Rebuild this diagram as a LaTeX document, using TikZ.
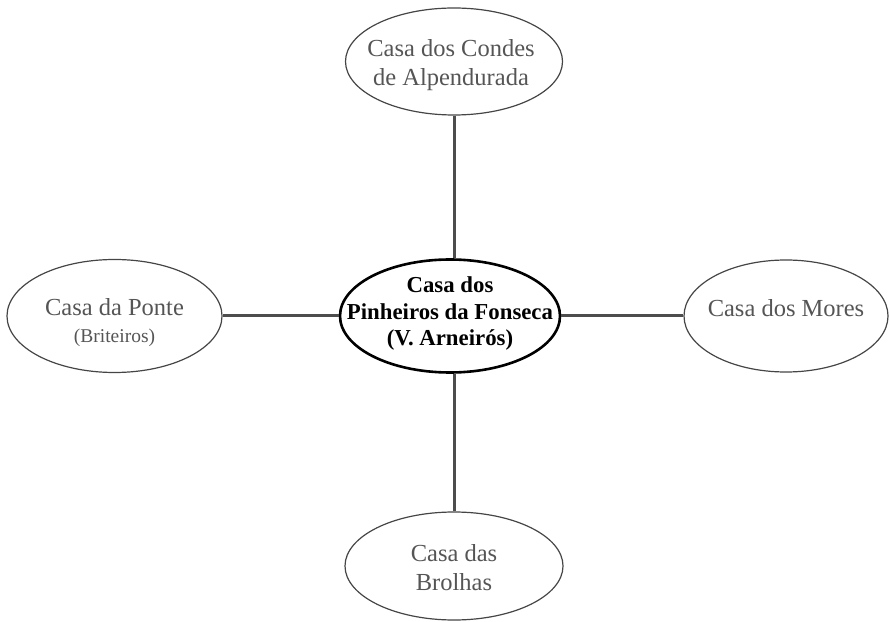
\documentclass[tikz,border=0pt]{standalone}
\usepackage{fontspec}
\setmainfont{Liberation Serif}
\usetikzlibrary{shapes.geometric}
\definecolor{txtgray}{HTML}{555555}
\definecolor{linegray}{HTML}{4D4D4D}
\begin{document}
\begin{tikzpicture}[x=1pt,y=1pt,
  outer/.style={ellipse,draw=linegray!90!black,line width=1.2pt,inner sep=0pt},
  hub/.style={ellipse,draw=black,line width=2.6pt,inner sep=0pt},
  outertext/.style={inner sep=0pt,align=center,text=txtgray,font=\fontsize{24.5}{29}\selectfont},
  hubtext/.style={inner sep=0pt,align=center,font=\bfseries\fontsize{22.8}{26.3}\selectfont},
  link/.style={draw=linegray,line width=3pt}]
\useasboundingbox (0,0) rectangle (890,621);
% shapes
\node[hub,minimum width=220,minimum height=113] (c) at (450,305) {};
\node[outer,minimum width=217,minimum height=107] (t) at (454,559.5) {};
\node[outer,minimum width=215,minimum height=113] (l) at (114.5,305) {};
\node[outer,minimum width=204,minimum height=112] (r) at (786,305) {};
\node[outer,minimum width=218,minimum height=108] (b) at (454,55) {};
% texts
\node[hubtext] (ct) at ([yshift=2.4]c.center) {Casa dos\\Pinheiros da Fonseca\\(V. Arneirós)};
\node[outertext] (tt) at ([xshift=-3,yshift=-3.3]t.center) {Casa dos Condes\\de Alpendurada};
\node[outertext,font=\fontsize{24.5}{27}\selectfont] (lt) at ([yshift=-6.2]l.center)
  {Casa da Ponte\\{\fontsize{19.5}{22}\selectfont (Briteiros)}};
\node[outertext] (rt) at ([yshift=7.4]r.center) {Casa dos Mores};
\node[outertext,font=\fontsize{24.5}{28.3}\selectfont] (bt) at ([yshift=-1.6]b.center) {Casa das\\Brolhas};
% connectors
\draw[link] (t.south) -- (t.south |- c.north);
\draw[link] (b.north) -- (b.north |- c.south);
\draw[link] (l.east) -- (c.west);
\draw[link] (c.east) -- (r.west);
\end{tikzpicture}
\end{document}
